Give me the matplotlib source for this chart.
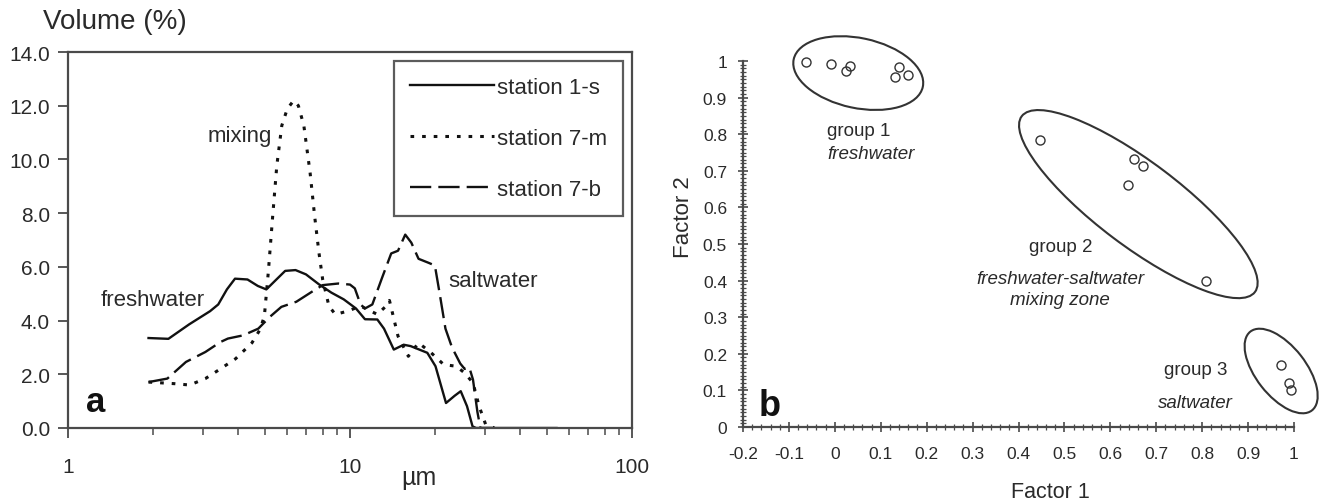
import numpy as np
import matplotlib
matplotlib.use("Agg")
import matplotlib.pyplot as plt
import matplotlib.transforms as mtransforms
from matplotlib.patches import Ellipse

plt.rcParams['font.family'] = ['Liberation Sans', 'DejaVu Sans']

# ---------------- Panel a data ----------------
s1_x = [1.93, 2.27, 2.69, 3.19, 3.41, 3.66, 3.91, 4.33, 4.71, 5.05, 5.41, 5.89, 6.41, 6.98,
        7.76, 8.59, 9.5, 10.5, 11.3, 12.5, 13.2, 14.3, 15.5, 16.4, 18.8, 20.1, 21.0, 21.9,
        23.5, 24.7, 26.0, 27.2, 28.0, 35.0, 54.0]
s1_y = [3.35, 3.32, 3.86, 4.35, 4.6, 5.16, 5.56, 5.53, 5.29, 5.16, 5.47, 5.85, 5.88, 5.72,
        5.35, 5.04, 4.79, 4.45, 4.05, 4.04, 3.7, 2.92, 3.1, 3.05, 2.8, 2.3, 1.6, 0.93,
        1.2, 1.37, 0.81, 0.06, 0.0, 0.0, 0.0]

s7m_x = [1.93, 2.39, 2.7, 3.07, 3.47, 3.93, 4.49, 4.8, 4.97, 5.13, 5.32, 5.5, 5.73, 5.99,
         6.31, 6.56, 6.86, 7.22, 7.49, 7.76, 8.0, 8.42, 8.87, 9.8, 10.9, 12.5, 13.3, 13.8,
         14.8, 16.1, 17.5, 19.4, 21.5, 23.8, 25.5, 27.3, 28.7, 30.3, 32.5]
s7m_y = [1.71, 1.65, 1.6, 1.84, 2.2, 2.58, 3.17, 3.67, 4.17, 5.78, 7.9, 9.76, 11.26, 11.88,
         12.19, 12.0, 11.26, 9.5, 7.9, 6.53, 5.53, 4.54, 4.23, 4.35, 4.54, 4.23, 4.5, 4.75,
         3.42, 2.67, 3.17, 2.8, 2.36, 2.3, 2.05, 1.68, 0.81, 0.12, 0.0]

s7b_x = [1.93, 2.25, 2.62, 3.07, 3.47, 3.69, 4.18, 4.73, 5.2, 5.71, 6.45, 7.32, 8.0, 9.1,
         10.0, 10.4, 10.9, 11.3, 12.0, 13.0, 14.0, 14.8, 15.7, 16.5, 17.5, 19.0, 20.0, 20.8,
         21.8, 23.0, 24.6, 25.5, 26.5, 27.3, 28.3, 29.0, 32.0]
s7b_y = [1.71, 1.84, 2.46, 2.83, 3.2, 3.33, 3.45, 3.7, 4.14, 4.51, 4.7, 5.07, 5.32, 5.38,
         5.34, 5.2, 4.6, 4.45, 4.6, 5.6, 6.5, 6.6, 7.2, 6.9, 6.3, 6.15, 6.05, 5.0,
         3.7, 3.0, 2.4, 2.2, 2.25, 1.8, 0.6, 0.0, 0.0]

legend_labels = ['station 1-s', 'station 7-m', 'station 7-b']
y_ticks_a = [0, 2, 4, 6, 8, 10, 12, 14]
x_ticks_a = [1, 10, 100]

# ---------------- Panel b data ----------------
g1_f1 = [-0.063, -0.008, 0.025, 0.033, 0.13, 0.14, 0.159]
g1_f2 = [0.996, 0.992, 0.973, 0.986, 0.955, 0.984, 0.961]
g2_f1 = [0.446, 0.652, 0.671, 0.639, 0.809]
g2_f2 = [0.784, 0.732, 0.714, 0.660, 0.400]
g3_f1 = [0.972, 0.99, 0.993]
g3_f2 = [0.170, 0.120, 0.102]
x_ticks_b = [-0.2, -0.1, 0, 0.1, 0.2, 0.3, 0.4, 0.5, 0.6, 0.7, 0.8, 0.9, 1]
y_ticks_b = [0, 0.1, 0.2, 0.3, 0.4, 0.5, 0.6, 0.7, 0.8, 0.9, 1]

TXT = '#2a2a2a'
AX = '#4a4a4a'

fig = plt.figure(figsize=(13.21, 5.02), dpi=100)

# ================= Panel a =================
axa = fig.add_axes([68/1321, 1-429/502, (632-68)/1321, (429-53)/502])
lw = 1.7
axa.plot(s1_x, s1_y, color='#111111', lw=lw, ls='-', label=legend_labels[0])
axa.plot(s7m_x, s7m_y, color='#111111', lw=2.2, ls=(0, (1.2, 2.6)), label=legend_labels[1])
axa.plot(s7b_x, s7b_y, color='#111111', lw=lw, ls=(0, (9, 3)), label=legend_labels[2])
axa.set_xscale('log')
axa.set_xlim(1, 100)
axa.set_ylim(0, 14)
axa.set_yticks(y_ticks_a)
axa.set_yticklabels([f'{v:.1f}' for v in y_ticks_a])
axa.set_xticks(x_ticks_a)
axa.set_xticklabels([f'{v:g}' for v in x_ticks_a])
axa.xaxis.set_minor_locator(matplotlib.ticker.LogLocator(base=10, subs=np.arange(2, 10)))
axa.xaxis.set_minor_formatter(matplotlib.ticker.NullFormatter())
for sp in axa.spines.values():
    sp.set_color(AX)
    sp.set_linewidth(1.6)
axa.tick_params(axis='both', which='major', direction='out', length=7, width=1.3,
                color=AX, labelsize=15, labelcolor=TXT, pad=6)
axa.tick_params(axis='x', which='minor', direction='out', length=5, width=1.1, color=AX)
axa.tick_params(axis='x', which='major', pad=14)

leg = axa.legend(loc='upper right', bbox_to_anchor=(0.984, 0.976), borderaxespad=0,
                 fontsize=16, handlelength=3.8, handletextpad=0.15, labelspacing=1.36,
                 fancybox=False, frameon=True, borderpad=0.7)
leg.get_frame().set_edgecolor('#333333')
leg.get_frame().set_linewidth(1.6)
for t in leg.get_texts():
    t.set_color(TXT)

axa.text(4.07, 10.9, 'mixing', fontsize=16, color=TXT, ha='center', va='center')
axa.text(2.0, 4.8, 'freshwater', fontsize=16, color=TXT, ha='center', va='center')
axa.text(32.1, 5.5, 'saltwater', fontsize=16, color=TXT, ha='center', va='center')
axa.text(1.257, 0.97, 'a', fontsize=25, fontweight='bold', color='#111111',
         ha='center', va='center')

fig.text(43/1321, 1-22/502, 'Volume (%)', fontsize=20, color=TXT, ha='left', va='center')
fig.text(419/1321, 1-478/502, 'µm', fontsize=18, color=TXT, ha='center', va='center')

# ================= Panel b =================
axb = fig.add_axes([743/1321, 1-428/502, (1294-743)/1321, (428-62)/502])
mk = dict(marker='o', ls='none', markersize=6.5, markerfacecolor='none',
          markeredgecolor='#333333', markeredgewidth=1.0, clip_on=False)
axb.plot(g1_f1, g1_f2, **mk)
axb.plot(g2_f1, g2_f2, **mk)
axb.plot(g3_f1, g3_f2, **mk)
axb.set_xlim(-0.2, 1.0)
axb.set_ylim(0, 1.0)
axb.set_xticks(x_ticks_b)
axb.set_xticklabels([f'{v:g}' for v in x_ticks_b])
axb.set_yticks(y_ticks_b)
axb.set_yticklabels([f'{v:g}' for v in y_ticks_b])
axb.xaxis.set_minor_locator(matplotlib.ticker.MultipleLocator(0.02))
axb.yaxis.set_minor_locator(matplotlib.ticker.MultipleLocator(0.01))
axb.spines['top'].set_visible(False)
axb.spines['right'].set_visible(False)
for sp in ['left', 'bottom']:
    axb.spines[sp].set_color(AX)
    axb.spines[sp].set_linewidth(1.6)
axb.tick_params(axis='both', which='major', direction='inout', length=7, width=1.2,
                color=AX, labelsize=12.5, labelcolor=TXT)
axb.tick_params(axis='both', which='minor', direction='inout', length=4, width=0.9, color=AX)
axb.tick_params(axis='x', which='major', pad=10)
axb.tick_params(axis='y', which='major', pad=8)

# group ellipses: centre (data), full width/height (pixels), angle (deg)
ell_cx = [0.051, 0.661, 0.972]
ell_cy = [0.967, 0.609, 0.153]
ell_w = [132, 292, 100]
ell_h = [70, 84, 50]
ell_ang = [-12, -37, -52]
for cx, cy, w, h, a in zip(ell_cx, ell_cy, ell_w, ell_h, ell_ang):
    tr = mtransforms.ScaledTranslation(cx, cy, axb.transData)
    e = Ellipse((0, 0), w, h, angle=a, transform=tr, fill=False,
                edgecolor='#333333', lw=1.5, clip_on=False)
    axb.add_artist(e)

fs = 13.5
axb.text(-0.017, 0.809, 'group 1', fontsize=fs, color=TXT, ha='left', va='center')
axb.text(-0.017, 0.746, 'freshwater', fontsize=fs, color=TXT, ha='left', va='center',
         style='italic')
axb.text(0.491, 0.492, 'group 2', fontsize=fs, color=TXT, ha='center', va='center')
axb.text(0.491, 0.407, 'freshwater-saltwater', fontsize=fs, color=TXT, ha='center',
         va='center', style='italic')
axb.text(0.491, 0.347, 'mixing zone', fontsize=fs, color=TXT, ha='center', va='center',
         style='italic')
axb.text(0.785, 0.158, 'group 3', fontsize=fs, color=TXT, ha='center', va='center')
axb.text(0.785, 0.066, 'saltwater', fontsize=fs, color=TXT, ha='center', va='center',
         style='italic')
axb.text(-0.143, 0.06, 'b', fontsize=26, fontweight='bold', color='#111111',
         ha='center', va='center')

fig.text(683/1321, 1-217/502, 'Factor 2', fontsize=16, color=TXT, rotation=90,
         ha='center', va='center')
fig.text(1050/1321, 1-493/502, 'Factor 1', fontsize=15.5, color=TXT, ha='center',
         va='center')

fig.savefig('out.png', dpi=100)
